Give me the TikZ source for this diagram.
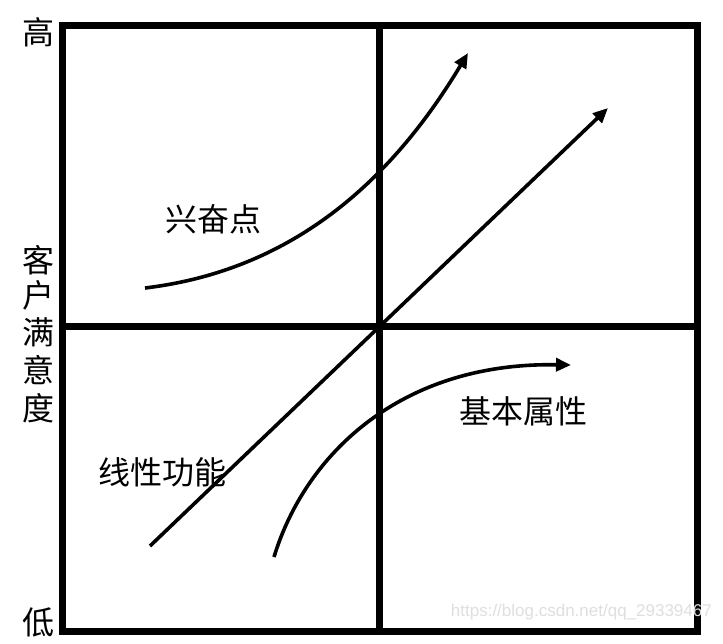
\documentclass[tikz,border=0pt]{standalone}
\usepackage{fontspec}
\newfontfamily\cjk{Noto Sans CJK SC}
\newfontfamily\wm{Liberation Sans}
\usetikzlibrary{arrows.meta}
\begin{document}
\begin{tikzpicture}[x=1pt,y=-1pt,
  frame/.style={line width=7pt},
  curve/.style={line width=3.6pt,-{Triangle[length=15pt,width=13pt]}},
  lbl/.style={font=\cjk\fontsize{32}{33}\selectfont,inner sep=0pt},
  axis/.style={font=\cjk\fontsize{32}{33}\selectfont,inner sep=0pt}]
\useasboundingbox (0,0) rectangle (723,643);
\fill[white] (0,0) rectangle (723,643);
% frame
\draw[frame] (62,25) rectangle (697,631);
\coordinate (vt) at (379.5,25);
\coordinate (vb) at (379.5,631);
\coordinate (hl) at (62,326);
\coordinate (hr) at (697,326);
\draw[frame] (vt) -- (vb);
\draw[frame] (hl) -- (hr);
% curves
\coordinate (e0) at (145,288);
\coordinate (e1) at (468,53);
\draw[curve] (e0) .. controls (295,270) and (393,178) .. (e1);
\coordinate (l0) at (150,546);
\coordinate (l1) at (608,108);
\draw[curve] (l0) -- (l1);
\coordinate (b0) at (274,557);
\coordinate (b1) at (571,365);
\draw[curve] (b0) .. controls (305,455) and (400,362) .. (b1);
% labels
\node[lbl] (xfd) at (213,219) {兴奋点};
\node[lbl] (jbsx) at (523,411) {基本属性};
\node[lbl] (xxgn) at (162,472) {线性功能};
\node[axis] (gao) at (38,32) {高};
\node[axis] (k1) at (38,260) {客};
\node[axis] (k2) at (38,295) {户};
\node[axis] (k3) at (38,332) {满};
\node[axis] (k4) at (38,370) {意};
\node[axis] (k5) at (38,408) {度};
\node[axis] (di) at (39,622) {低};
\node[font=\wm\fontsize{17}{18}\selectfont,text=gray!25,inner sep=0pt,anchor=east] (wmk) at (712,612) {https://blog.csdn.net/qq\_29339467};
\end{tikzpicture}
\end{document}
